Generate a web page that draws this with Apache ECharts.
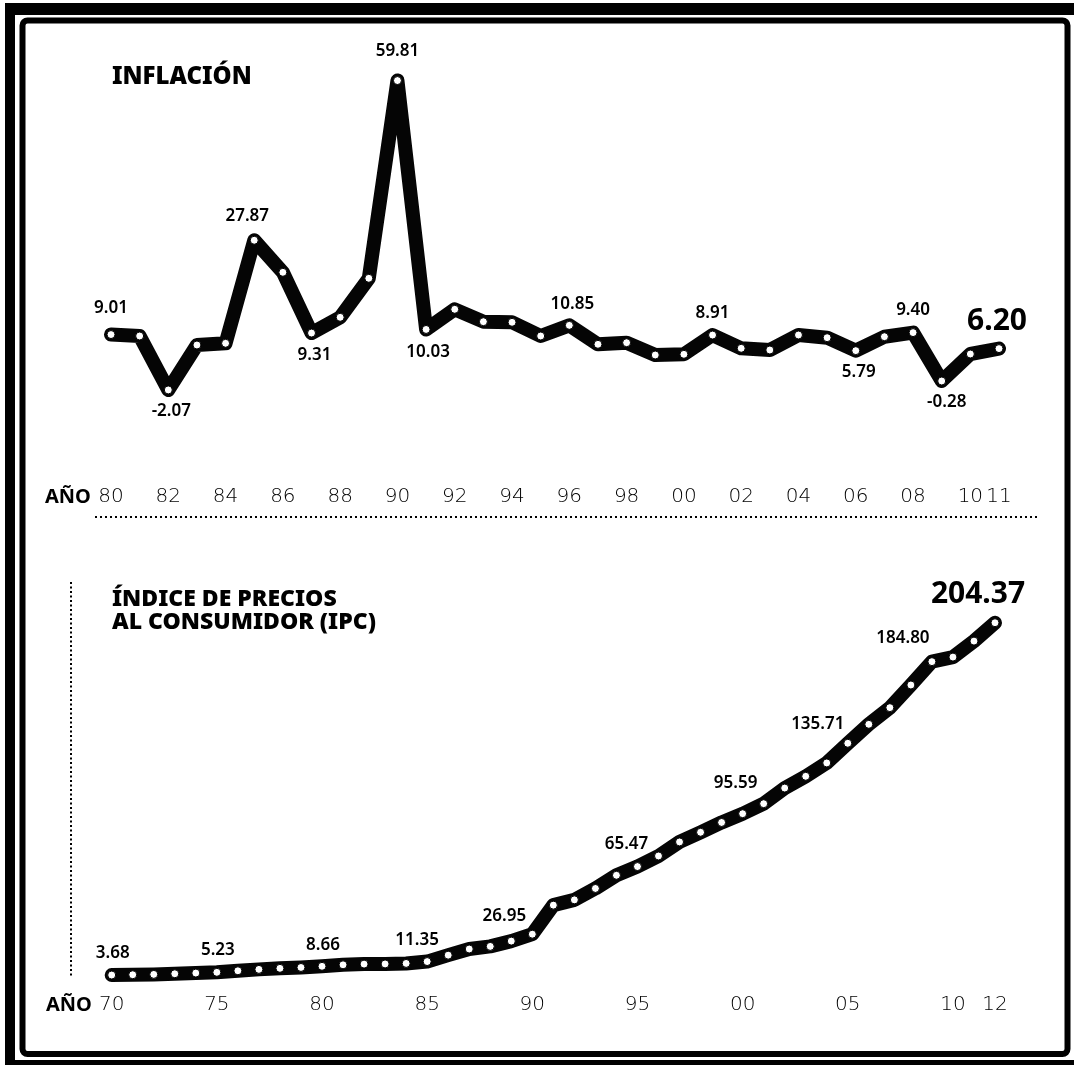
<!DOCTYPE html>
<html>
<head>
<meta charset="utf-8">
<script src="https://cdn.jsdelivr.net/npm/echarts@6/dist/echarts.min.js"></script>
<style>
html,body{margin:0;padding:0;background:#fff;}
#chart{width:1074px;height:1065px;}
</style>
</head>
<body>
<div id="chart"></div>
<script>
// ---- DATA ----
const inflYears = ['80','81','82','83','84','85','86','87','88','89','90','91','92','93','94','95','96','97','98','99','00','01','02','03','04','05','06','07','08','09','10','11'];
const inflValues = [9.01, 8.72, -2.07, 6.92, 7.26, 27.87, 21.46, 9.31, 12.46, 20.26, 59.81, 10.03, 14.06, 11.58, 11.46, 8.72, 10.85, 7.06, 7.38, 4.92, 5.06, 8.91, 6.26, 5.92, 8.92, 8.38, 5.79, 8.58, 9.40, -0.28, 5.12, 6.20];
const inflTickLabels = ['80','82','84','86','88','90','92','94','96','98','00','02','04','06','08','10','11'];
const inflLabelled = ['80','82','85','87','90','91','96','01','06','08','09','11'];

const ipcYears = ['70','71','72','73','74','75','76','77','78','79','80','81','82','83','84','85','86','87','88','89','90','91','92','93','94','95','96','97','98','99','00','01','02','03','04','05','06','07','08','09','10','11','12'];
const ipcValues = [3.68, 3.85, 4.05, 4.40, 4.80, 5.23, 6.10, 6.90, 7.50, 8.00, 8.66, 9.50, 9.90, 10.00, 10.30, 11.35, 15.00, 18.50, 20.00, 23.00, 26.95, 43.50, 46.50, 53.00, 60.50, 65.47, 71.50, 79.50, 85.00, 90.60, 95.59, 101.30, 110.20, 116.90, 124.50, 135.71, 146.50, 156.00, 168.90, 182.20, 184.80, 193.90, 204.37];
const ipcTickLabels = ['70','75','80','85','90','95','00','05','10','12'];
const ipcLabelled = ['70','75','80','85','90','95','00','05','10','12'];

// ---- STYLE (label placement relative to the point) ----
const inflLabelOffset = {
  '80':[0,-26], '82':[3,21], '85':[-7,-24], '87':[3,22], '90':[0,-29], '91':[2,23],
  '96':[3,-21], '01':[0,-22], '06':[3,22], '08':[0,-22], '09':[5,21], '11':[-2,-27]
};
const ipcLabelOffset = {
  '70':[1,-22], '75':[1,-22], '80':[1,-21], '85':[-10,-21], '90':[-28,-18],
  '95':[-11,-22], '00':[-7,-31], '05':[-30,-19], '10':[-50,-19], '12':[-17,-28]
};
const bigLabels = {infl:'11', ipc:'12'};

const numFont = "'Noto Sans', 'DejaVu Sans', sans-serif";
const tickFont = "'DejaVu Sans', sans-serif";

function buildData(years, values, labelled, offsets, big) {
  return values.map((v, i) => {
    const y = years[i];
    if (labelled.indexOf(y) < 0) return v;
    const isBig = (y === big);
    return {
      value: v,
      label: {
        show: true,
        position: 'inside',
        offset: offsets[y],
        formatter: v.toFixed(2),
        color: '#000',
        fontFamily: numFont,
        fontSize: isBig ? 30 : 17,
        fontWeight: isBig ? 'bold' : 600,
        letterSpacing: isBig ? -0.5 : -0.3
      }
    };
  });
}

const chart = echarts.init(document.getElementById('chart'), null, {renderer:'canvas'});

const lineStyle = {color:'#050505', width:14, join:'round', cap:'round'};
const itemStyle = {color:'#ffffff', borderColor:'#000', borderWidth:1};

const option = {
  backgroundColor: '#ffffff',
  animation: false,
  grid: [
    {left:111, width:888, top:79.6, height:400},
    {left:111.7, width:883.3, top:595.3, height:386.2}
  ],
  xAxis: [
    {
      gridIndex:0, type:'category', data: inflYears, boundaryGap:false,
      axisLine:{show:false}, axisTick:{show:false}, splitLine:{show:false},
      axisLabel:{
        margin:7, color:'#000', fontFamily:tickFont, fontWeight:200, fontSize:20,
        interval: (i, v) => inflTickLabels.indexOf(v) >= 0
      }
    },
    {
      gridIndex:1, type:'category', data: ipcYears, boundaryGap:false,
      axisLine:{show:false}, axisTick:{show:false}, splitLine:{show:false},
      axisLabel:{
        margin:13, color:'#000', fontFamily:tickFont, fontWeight:200, fontSize:20,
        interval: (i, v) => ipcTickLabels.indexOf(v) >= 0
      }
    }
  ],
  yAxis: [
    {gridIndex:0, type:'value', min:-20, max:60, show:false},
    {gridIndex:1, type:'value', min:0, max:220, show:false}
  ],
  series: [
    {
      type:'line', xAxisIndex:0, yAxisIndex:0,
      data: buildData(inflYears, inflValues, inflLabelled, inflLabelOffset, bigLabels.infl),
      symbol:'circle', symbolSize:8, showAllSymbol:true,
      lineStyle, itemStyle, z:5
    },
    {
      type:'line', xAxisIndex:1, yAxisIndex:1,
      data: buildData(ipcYears, ipcValues, ipcLabelled, ipcLabelOffset, bigLabels.ipc),
      symbol:'circle', symbolSize:8, showAllSymbol:true,
      lineStyle, itemStyle, z:5
    }
  ],
  graphic: [
    {type:'rect', z:-10, silent:true, shape:{x:5, y:3, width:1100, height:1100}, style:{fill:'#000'}},
    {type:'rect', z:-9, silent:true, shape:{x:15, y:15, width:1100, height:1045}, style:{fill:'#fff'}},
    {type:'rect', z:-8, silent:true, shape:{x:22.5, y:20.5, width:1045, height:1033.5, r:5}, style:{fill:'none', stroke:'#000', lineWidth:6}},
    {type:'line', z:-7, silent:true, shape:{x1:95, y1:517, x2:1040, y2:517}, style:{stroke:'#000', lineWidth:2, lineDash:[2,3]}},
    {type:'line', z:-7, silent:true, shape:{x1:71, y1:582, x2:71, y2:977}, style:{stroke:'#000', lineWidth:2, lineDash:[2,2.5]}},
    {type:'text', z:10, style:{text:'INFLACIÓN', x:112, y:77, textVerticalAlign:'middle', fill:'#000', font:"900 24px 'Noto Sans', sans-serif"}},
    {type:'text', z:10, style:{text:'ÍNDICE DE PRECIOS', x:112, y:599, textVerticalAlign:'middle', fill:'#000', font:"900 23px 'Noto Sans', sans-serif"}},
    {type:'text', z:10, style:{text:'AL CONSUMIDOR (IPC)', x:112, y:622, textVerticalAlign:'middle', fill:'#000', font:"900 23px 'Noto Sans', sans-serif"}},
    {type:'text', z:10, style:{text:'AÑO', x:45, y:497, textVerticalAlign:'middle', fill:'#000', font:"bold 20px 'Noto Sans', sans-serif"}},
    {type:'text', z:10, style:{text:'AÑO', x:46, y:1005, textVerticalAlign:'middle', fill:'#000', font:"bold 20px 'Noto Sans', sans-serif"}}
  ]
};
chart.setOption(option);
</script>
</body>
</html>
